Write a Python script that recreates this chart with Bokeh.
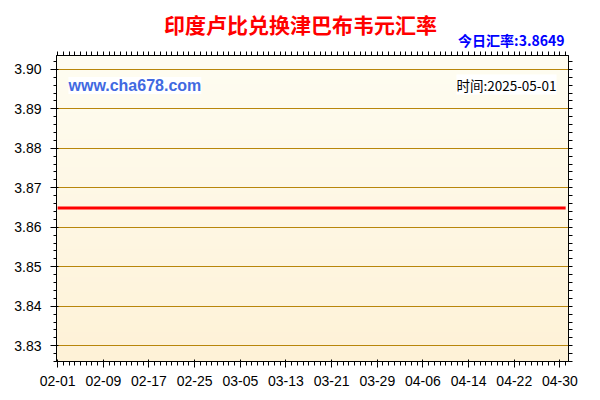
import numpy as np
import pandas as pd
from bokeh.plotting import figure
from bokeh.layouts import column
from bokeh.models import FixedTicker, LinearAxis, Label, Range1d
from bokeh.embed import file_html
from bokeh.resources import INLINE

# ---- data ----
dates = pd.date_range("2025-02-01", "2025-05-01", freq="D")
rates = [3.8649] * len(dates)          # flat rate over the whole period
day_index = list(range(len(dates)))
x_tick_labels = ["02-01", "02-09", "02-17", "02-25", "03-05", "03-13",
                 "03-21", "03-29", "04-06", "04-14", "04-22", "04-30"]
y_ticks = [3.83, 3.84, 3.85, 3.86, 3.87, 3.88, 3.89, 3.90]
title_text = "印度卢比兑换津巴布韦元汇率"
today_text = "今日汇率:3.8649"
site_text = "www.cha678.com"
time_text = "时间:2025-05-01"

W = 592
HEAD_H = 50
FRAME_LEFT = 56
cjk = "Noto Sans CJK SC"
font = "Liberation Sans"

# ---- header (title + today's rate) ----
head = figure(width=W, height=HEAD_H, output_backend="svg", toolbar_location=None,
              x_range=Range1d(0, W), y_range=Range1d(0, HEAD_H),
              x_axis_location=None, y_axis_location=None,
              min_border_left=0, min_border_right=0, min_border_top=0, min_border_bottom=0)
head.grid.visible = False
head.outline_line_color = None
head.background_fill_color = "white"
head.border_fill_color = "white"
head.add_layout(Label(x=300 - FRAME_LEFT, y=HEAD_H - 23, x_units="screen", y_units="screen",
                      text=title_text,
                      text_font=cjk, text_font_size="21px", text_font_style="bold",
                      text_color="#FF0000", text_align="center", text_baseline="middle"))
head.add_layout(Label(x=564 - FRAME_LEFT, y=0.5, x_units="screen", y_units="screen",
                      text=today_text,
                      text_font=cjk, text_font_size="14px", text_font_style="bold",
                      text_color="#0000FF", text_align="right", text_baseline="bottom"))

# ---- main chart ----
x_start, x_end = -0.2, 89.5
y_start, y_end = 3.826, 3.9035

p = figure(width=W, height=392 - HEAD_H, output_backend="svg", toolbar_location=None,
           x_range=Range1d(x_start, x_end), y_range=Range1d(y_start, y_end),
           min_border_left=FRAME_LEFT, min_border_right=24, min_border_top=5, min_border_bottom=31)
p.background_fill_color = "#FFF8E6"
p.border_fill_color = "white"
p.outline_line_color = "black"
p.outline_line_width = 1

# gradient background of the plot area
H = 128
img = np.empty((H, 1), dtype=np.uint32)
view = img.view(dtype=np.uint8).reshape((H, 1, 4))
top_c = np.array([255, 253, 242])
bot_c = np.array([254, 242, 215])
for i in range(H):
    t = i / (H - 1)
    c = bot_c + (top_c - bot_c) * t
    view[i, 0, 0:3] = c.astype(np.uint8)
    view[i, 0, 3] = 255
p.image_rgba(image=[img], x=x_start, y=y_start, dw=x_end - x_start, dh=y_end - y_start, level="image")

# rate line
p.line(day_index, rates, line_color="#FF0000", line_width=3)

# ---- ticks ----
labels_md = list(dates.strftime("%m-%d"))
x_major = [labels_md.index(s) for s in x_tick_labels]
overrides = {t: labels_md[t] for t in x_major}
x_ticker = FixedTicker(ticks=x_major, minor_ticks=day_index)
y_minor = [round(3.826 + 0.002 * k, 3) for k in range(0, 40)]
y_ticker = FixedTicker(ticks=y_ticks, minor_ticks=y_minor)

ax = p.xaxis[0]
ax.ticker = x_ticker
ax.major_label_overrides = overrides
ax.major_label_text_font = font
ax.major_label_text_font_size = "14px"
ax.major_label_text_color = "#000000"
ax.major_label_standoff = 8
ax.major_tick_out = 6
ax.major_tick_in = 2
ax.minor_tick_out = 4
ax.minor_tick_in = 0
ax.axis_line_color = "black"

ay = p.yaxis[0]
ay.ticker = y_ticker
ay.major_label_overrides = {v: f"{v:.2f}" for v in y_ticks}
ay.major_label_text_font = font
ay.major_label_text_font_size = "14px"
ay.major_label_text_color = "#000000"
ay.major_label_standoff = 9
ay.major_tick_out = 6
ay.major_tick_in = 2
ay.minor_tick_out = 3
ay.minor_tick_in = 0
ay.axis_line_color = "black"

# tick-only frame axes (no labels): every tick is a minor tick
top_axis = LinearAxis(ticker=FixedTicker(ticks=[], minor_ticks=day_index),
                      minor_tick_out=4, minor_tick_in=0, major_tick_out=0,
                      major_label_standoff=0, axis_line_color="black")
p.add_layout(top_axis, "above")
right_axis = LinearAxis(ticker=FixedTicker(ticks=[], minor_ticks=y_minor),
                        minor_tick_out=4, minor_tick_in=0, major_tick_out=0,
                        major_label_standoff=0, axis_line_color="black")
p.add_layout(right_axis, "right")

p.xgrid.visible = False
p.ygrid.ticker = y_ticker
p.ygrid.grid_line_color = "#B8860B"
p.ygrid.grid_line_width = 1

# ---- texts inside the frame (screen units, relative to frame bottom-left) ----
p.add_layout(Label(x=12, y=276, x_units="screen", y_units="screen", text=site_text,
                   text_font=font, text_font_size="16px", text_font_style="bold",
                   text_color="#4169E1", text_align="left", text_baseline="middle",
                   background_fill_color="white"))
p.add_layout(Label(x=500, y=277, x_units="screen", y_units="screen", text=time_text,
                   text_font=cjk, text_font_size="13.5px",
                   text_color="#000000", text_align="right", text_baseline="middle",
                   background_fill_color="white"))

layout = column(head, p, spacing=0)
open("out.html", "w").write(file_html(layout, INLINE))
